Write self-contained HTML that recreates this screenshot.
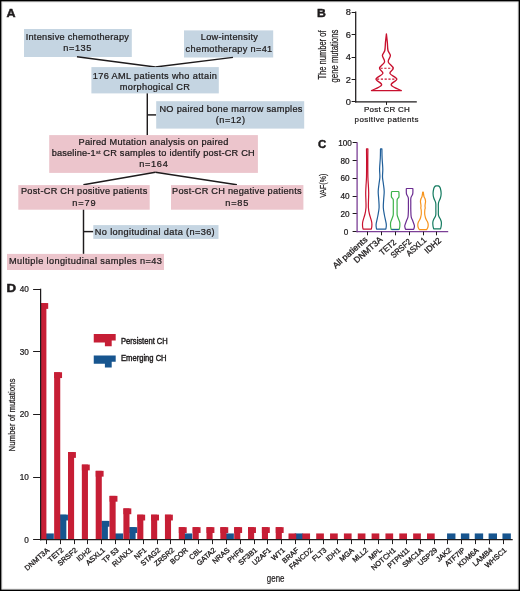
<!DOCTYPE html>
<html><head><meta charset="utf-8"><style>
html,body{margin:0;padding:0;background:#fff;}
body{width:520px;height:591px;overflow:hidden;}
svg{display:block;font-family:"Liberation Sans", sans-serif;will-change:transform;}
</style></head><body>
<svg width="520" height="591" viewBox="0 0 520 591">
<rect x="0" y="0" width="520" height="591" fill="#fff"/>
<text x="6.59" y="17.10" font-size="11.5" font-weight="bold" fill="#1e1b1c" stroke="#1e1b1c" stroke-width="0.45" textLength="9.05" lengthAdjust="spacingAndGlyphs" >A</text>
<rect x="24.00" y="29.00" width="107.80" height="28.00" fill="#c5d5e2"/>
<text x="25.65" y="39.80" font-size="9.2" font-weight="normal" fill="#1e1b1c" stroke="#1e1b1c" stroke-width="0.24" textLength="103.27" lengthAdjust="spacing" >Intensive chemotherapy</text>
<text x="63.18" y="51.20" font-size="9.2" font-weight="normal" fill="#1e1b1c" stroke="#1e1b1c" stroke-width="0.24" textLength="28.30" lengthAdjust="spacing" >n=135</text>
<rect x="184.00" y="30.40" width="89.20" height="27.10" fill="#c5d5e2"/>
<text x="200.74" y="40.40" font-size="9.2" font-weight="normal" fill="#1e1b1c" stroke="#1e1b1c" stroke-width="0.24" textLength="57.19" lengthAdjust="spacing" >Low-intensity</text>
<text x="185.61" y="51.70" font-size="9.2" font-weight="normal" fill="#1e1b1c" stroke="#1e1b1c" stroke-width="0.24" textLength="86.63" lengthAdjust="spacing" >chemotherapy n=41</text>
<line x1="77.00" y1="56.80" x2="155.30" y2="67.00" stroke="#1e1b1c" stroke-width="1.45"/>
<line x1="233.00" y1="57.40" x2="155.30" y2="67.00" stroke="#1e1b1c" stroke-width="1.45"/>
<rect x="91.40" y="67.10" width="127.40" height="26.30" fill="#c5d5e2"/>
<text x="92.81" y="78.50" font-size="9.2" font-weight="normal" fill="#1e1b1c" stroke="#1e1b1c" stroke-width="0.24" textLength="124.09" lengthAdjust="spacing" >176 AML patients who attain</text>
<text x="119.78" y="89.60" font-size="9.2" font-weight="normal" fill="#1e1b1c" stroke="#1e1b1c" stroke-width="0.24" textLength="70.05" lengthAdjust="spacing" >morphogical CR</text>
<line x1="147.30" y1="93.40" x2="147.30" y2="135.20" stroke="#1e1b1c" stroke-width="1.45"/>
<line x1="147.30" y1="114.90" x2="156.20" y2="114.90" stroke="#1e1b1c" stroke-width="1.45"/>
<rect x="156.20" y="101.20" width="148.00" height="27.40" fill="#c5d5e2"/>
<text x="159.44" y="111.60" font-size="9.2" font-weight="normal" fill="#1e1b1c" stroke="#1e1b1c" stroke-width="0.24" textLength="142.99" lengthAdjust="spacing" >NO paired bone marrow samples</text>
<text x="215.83" y="123.10" font-size="9.2" font-weight="normal" fill="#1e1b1c" stroke="#1e1b1c" stroke-width="0.24" textLength="29.14" lengthAdjust="spacing" >(n=12)</text>
<rect x="49.20" y="135.10" width="208.70" height="37.80" fill="#ecc5cc"/>
<text x="78.54" y="145.10" font-size="9.2" font-weight="normal" fill="#1e1b1c" stroke="#1e1b1c" stroke-width="0.24" textLength="149.74" lengthAdjust="spacing" >Paired Mutation analysis on paired</text>
<text x="51.80" y="156.20" font-size="9.2" font-weight="normal" fill="#1e1b1c" stroke="#1e1b1c" stroke-width="0.24" textLength="43.85" lengthAdjust="spacing" >baseline-1</text>
<text x="96.14" y="153.60" font-size="5.2" font-weight="normal" fill="#1e1b1c" stroke="#1e1b1c" stroke-width="0.15" textLength="4.50" lengthAdjust="spacingAndGlyphs" >st</text>
<text x="103.34" y="156.20" font-size="9.2" font-weight="normal" fill="#1e1b1c" stroke="#1e1b1c" stroke-width="0.24" textLength="151.41" lengthAdjust="spacing" >CR samples to identify post-CR CH</text>
<text x="139.28" y="166.90" font-size="9.2" font-weight="normal" fill="#1e1b1c" stroke="#1e1b1c" stroke-width="0.24" textLength="28.48" lengthAdjust="spacing" >n=164</text>
<line x1="155.40" y1="172.20" x2="83.40" y2="184.80" stroke="#1e1b1c" stroke-width="1.45"/>
<line x1="155.40" y1="172.20" x2="236.90" y2="184.80" stroke="#1e1b1c" stroke-width="1.45"/>
<rect x="18.30" y="185.10" width="131.40" height="24.60" fill="#ecc5cc"/>
<text x="20.94" y="194.30" font-size="9.2" font-weight="normal" fill="#1e1b1c" stroke="#1e1b1c" stroke-width="0.24" textLength="126.28" lengthAdjust="spacing" >Post-CR CH positive patients</text>
<text x="72.28" y="205.80" font-size="9.2" font-weight="normal" fill="#1e1b1c" stroke="#1e1b1c" stroke-width="0.24" textLength="23.33" lengthAdjust="spacing" >n=79</text>
<rect x="171.00" y="185.10" width="132.40" height="24.60" fill="#ecc5cc"/>
<text x="172.04" y="194.30" font-size="9.2" font-weight="normal" fill="#1e1b1c" stroke="#1e1b1c" stroke-width="0.24" textLength="129.58" lengthAdjust="spacing" >Post-CR CH negative patients</text>
<text x="225.28" y="205.80" font-size="9.2" font-weight="normal" fill="#1e1b1c" stroke="#1e1b1c" stroke-width="0.24" textLength="23.09" lengthAdjust="spacing" >n=85</text>
<line x1="83.50" y1="209.70" x2="83.50" y2="253.90" stroke="#1e1b1c" stroke-width="1.45"/>
<line x1="83.50" y1="231.60" x2="93.30" y2="231.60" stroke="#1e1b1c" stroke-width="1.45"/>
<rect x="93.30" y="225.10" width="125.20" height="13.80" fill="#c5d5e2"/>
<text x="94.84" y="234.60" font-size="9.2" font-weight="normal" fill="#1e1b1c" stroke="#1e1b1c" stroke-width="0.24" textLength="119.83" lengthAdjust="spacing" >No longitudinal data (n=36)</text>
<rect x="7.00" y="253.90" width="157.00" height="16.10" fill="#ecc5cc"/>
<text x="9.04" y="264.40" font-size="9.2" font-weight="normal" fill="#1e1b1c" stroke="#1e1b1c" stroke-width="0.24" textLength="152.75" lengthAdjust="spacing" >Multiple longitudinal samples n=43</text>
<text x="316.97" y="16.80" font-size="11.0" font-weight="bold" fill="#1e1b1c" stroke="#1e1b1c" stroke-width="0.45" textLength="8.88" lengthAdjust="spacingAndGlyphs" >B</text>
<line x1="355.70" y1="11.50" x2="355.70" y2="102.50" stroke="#1e1b1c" stroke-width="1.25"/>
<line x1="355.10" y1="101.90" x2="416.80" y2="101.90" stroke="#1e1b1c" stroke-width="1.25"/>
<line x1="351.60" y1="101.50" x2="355.70" y2="101.50" stroke="#1e1b1c" stroke-width="1.0"/>
<text x="351.0" y="105.20" font-size="9.3" text-anchor="end" fill="#1e1b1c" stroke="#1e1b1c" stroke-width="0.22">0</text>
<line x1="351.60" y1="79.50" x2="355.70" y2="79.50" stroke="#1e1b1c" stroke-width="1.0"/>
<text x="351.0" y="82.75" font-size="9.3" text-anchor="end" fill="#1e1b1c" stroke="#1e1b1c" stroke-width="0.22">2</text>
<line x1="351.60" y1="57.50" x2="355.70" y2="57.50" stroke="#1e1b1c" stroke-width="1.0"/>
<text x="351.0" y="60.30" font-size="9.3" text-anchor="end" fill="#1e1b1c" stroke="#1e1b1c" stroke-width="0.22">4</text>
<line x1="351.60" y1="34.50" x2="355.70" y2="34.50" stroke="#1e1b1c" stroke-width="1.0"/>
<text x="351.0" y="37.85" font-size="9.3" text-anchor="end" fill="#1e1b1c" stroke="#1e1b1c" stroke-width="0.22">6</text>
<line x1="351.60" y1="12.50" x2="355.70" y2="12.50" stroke="#1e1b1c" stroke-width="1.0"/>
<text x="351.0" y="15.40" font-size="9.3" text-anchor="end" fill="#1e1b1c" stroke="#1e1b1c" stroke-width="0.22">8</text>
<line x1="386.50" y1="101.90" x2="386.50" y2="104.90" stroke="#1e1b1c" stroke-width="1.0"/>
<text x="363.94" y="111.80" font-size="8.0" font-weight="normal" fill="#1e1b1c" stroke="#1e1b1c" stroke-width="0.22" textLength="45.82" lengthAdjust="spacing" >Post CR CH</text>
<text x="354.58" y="121.50" font-size="8.0" font-weight="normal" fill="#1e1b1c" stroke="#1e1b1c" stroke-width="0.22" textLength="63.81" lengthAdjust="spacing" >positive patients</text>
<text transform="translate(326.00,79.40) rotate(-90)" x="-0.17" y="0" font-size="10.4" fill="#1e1b1c" stroke="#1e1b1c" stroke-width="0.22" textLength="49.06" lengthAdjust="spacingAndGlyphs">The number of</text>
<text transform="translate(337.50,82.10) rotate(-90)" x="-0.33" y="0" font-size="10.4" fill="#1e1b1c" stroke="#1e1b1c" stroke-width="0.22" textLength="52.80" lengthAdjust="spacingAndGlyphs">gene mutations</text>
<path d="M386.40,34.00 C386.55,35.33 387.03,39.25 387.30,42.00 C387.57,44.75 387.48,48.23 388.00,50.50 C388.52,52.77 390.37,53.70 390.40,55.60 C390.43,57.50 387.72,59.80 388.20,61.90 C388.68,64.00 393.02,66.28 393.30,68.20 C393.58,70.12 389.32,71.58 389.90,73.40 C390.48,75.22 396.58,77.18 396.80,79.10 C397.02,81.02 390.45,82.98 391.20,84.90 C391.95,86.82 399.62,89.65 401.30,90.60 L371.50,90.60 C373.18,89.65 380.85,86.82 381.60,84.90 C382.35,82.98 375.78,81.02 376.00,79.10 C376.22,77.18 382.32,75.22 382.90,73.40 C383.48,71.58 379.22,70.12 379.50,68.20 C379.78,66.28 384.12,64.00 384.60,61.90 C385.08,59.80 382.37,57.50 382.40,55.60 C382.43,53.70 384.28,52.77 384.80,50.50 C385.32,48.23 385.23,44.75 385.50,42.00 C385.77,39.25 386.25,35.33 386.40,34.00 Z" fill="none" stroke="#c8102e" stroke-width="1.35" stroke-linejoin="round"/>
<line x1="380.5" y1="68.2" x2="392.6" y2="68.2" stroke="#c8102e" stroke-width="1.1" stroke-dasharray="2.2,1.6"/>
<line x1="377.0" y1="79.1" x2="396.0" y2="79.1" stroke="#c8102e" stroke-width="1.1" stroke-dasharray="2.2,1.6"/>
<text x="318.04" y="148.30" font-size="11.0" font-weight="bold" fill="#1e1b1c" stroke="#1e1b1c" stroke-width="0.45" textLength="8.27" lengthAdjust="spacingAndGlyphs" >C</text>
<line x1="352.60" y1="231.50" x2="357.10" y2="231.50" stroke="#1e1b1c" stroke-width="1.0"/>
<text x="346.0" y="234.65" font-size="8.2" text-anchor="middle" fill="#1e1b1c" stroke="#1e1b1c" stroke-width="0.22">0</text>
<line x1="352.60" y1="213.50" x2="357.10" y2="213.50" stroke="#1e1b1c" stroke-width="1.0"/>
<text x="345.1" y="216.88" font-size="8.2" text-anchor="middle" fill="#1e1b1c" stroke="#1e1b1c" stroke-width="0.22">20</text>
<line x1="352.60" y1="196.50" x2="357.10" y2="196.50" stroke="#1e1b1c" stroke-width="1.0"/>
<text x="345.1" y="199.10" font-size="8.2" text-anchor="middle" fill="#1e1b1c" stroke="#1e1b1c" stroke-width="0.22">40</text>
<line x1="352.60" y1="178.50" x2="357.10" y2="178.50" stroke="#1e1b1c" stroke-width="1.0"/>
<text x="345.1" y="181.33" font-size="8.2" text-anchor="middle" fill="#1e1b1c" stroke="#1e1b1c" stroke-width="0.22">60</text>
<line x1="352.60" y1="160.50" x2="357.10" y2="160.50" stroke="#1e1b1c" stroke-width="1.0"/>
<text x="345.1" y="163.55" font-size="8.2" text-anchor="middle" fill="#1e1b1c" stroke="#1e1b1c" stroke-width="0.22">80</text>
<line x1="352.60" y1="142.50" x2="357.10" y2="142.50" stroke="#1e1b1c" stroke-width="1.0"/>
<text x="345.1" y="145.78" font-size="8.2" text-anchor="middle" fill="#1e1b1c" stroke="#1e1b1c" stroke-width="0.22">100</text>
<line x1="357.10" y1="142.23" x2="357.10" y2="232.30" stroke="#7b3f96" stroke-width="1.3"/>
<line x1="356.50" y1="231.70" x2="448.20" y2="231.70" stroke="#7b3f96" stroke-width="1.3"/>
<text transform="translate(326.10,197.80) rotate(-90)" x="-0.04" y="0" font-size="9.8" fill="#1e1b1c" stroke="#1e1b1c" stroke-width="0.22" textLength="24.16" lengthAdjust="spacingAndGlyphs">VAF(%)</text>
<line x1="367.50" y1="231.70" x2="367.50" y2="235.30" stroke="#1e1b1c" stroke-width="1.0"/>
<line x1="381.50" y1="231.70" x2="381.50" y2="235.30" stroke="#1e1b1c" stroke-width="1.0"/>
<line x1="395.50" y1="231.70" x2="395.50" y2="235.30" stroke="#1e1b1c" stroke-width="1.0"/>
<line x1="409.50" y1="231.70" x2="409.50" y2="235.30" stroke="#1e1b1c" stroke-width="1.0"/>
<line x1="423.50" y1="231.70" x2="423.50" y2="235.30" stroke="#1e1b1c" stroke-width="1.0"/>
<line x1="436.50" y1="231.70" x2="436.50" y2="235.30" stroke="#1e1b1c" stroke-width="1.0"/>
<text transform="translate(367.75,240.65) rotate(-41.5)" x="-42.82" y="0" font-size="8.4" fill="#1e1b1c" stroke="#1e1b1c" stroke-width="0.3" textLength="43.12" lengthAdjust="spacingAndGlyphs">All patients</text>
<text transform="translate(383.05,240.35) rotate(-41.5)" x="-35.00" y="0" font-size="8.4" fill="#1e1b1c" stroke="#1e1b1c" stroke-width="0.3" textLength="35.01" lengthAdjust="spacingAndGlyphs">DNMT3A</text>
<text transform="translate(396.32,243.48) rotate(-41.5)" x="-18.37" y="0" font-size="8.4" fill="#1e1b1c" stroke="#1e1b1c" stroke-width="0.3" textLength="18.78" lengthAdjust="spacingAndGlyphs">TET2</text>
<text transform="translate(411.50,242.84) rotate(-41.5)" x="-23.74" y="0" font-size="8.4" fill="#1e1b1c" stroke="#1e1b1c" stroke-width="0.3" textLength="24.12" lengthAdjust="spacingAndGlyphs">SRSF2</text>
<text transform="translate(426.65,241.25) rotate(-41.5)" x="-23.32" y="0" font-size="8.4" fill="#1e1b1c" stroke="#1e1b1c" stroke-width="0.3" textLength="23.69" lengthAdjust="spacingAndGlyphs">ASXL1</text>
<text transform="translate(441.55,241.65) rotate(-41.5)" x="-18.68" y="0" font-size="8.4" fill="#1e1b1c" stroke="#1e1b1c" stroke-width="0.3" textLength="19.10" lengthAdjust="spacingAndGlyphs">IDH2</text>
<path d="M367.90,148.80 C367.88,150.67 367.80,155.30 367.80,160.00 C367.80,164.70 367.80,172.67 367.90,177.00 C368.00,181.33 368.27,183.33 368.40,186.00 C368.53,188.67 368.68,190.67 368.70,193.00 C368.72,195.33 368.55,197.58 368.50,200.00 C368.45,202.42 368.25,205.17 368.40,207.50 C368.55,209.83 368.85,211.58 369.40,214.00 C369.95,216.42 371.30,219.92 371.70,222.00 C372.10,224.08 371.87,225.30 371.80,226.50 C371.73,227.70 371.38,228.75 371.30,229.20 L363.10,229.20 C363.02,228.75 362.67,227.70 362.60,226.50 C362.53,225.30 362.30,224.08 362.70,222.00 C363.10,219.92 364.45,216.42 365.00,214.00 C365.55,211.58 365.85,209.83 366.00,207.50 C366.15,205.17 365.95,202.42 365.90,200.00 C365.85,197.58 365.68,195.33 365.70,193.00 C365.72,190.67 365.87,188.67 366.00,186.00 C366.13,183.33 366.40,181.33 366.50,177.00 C366.60,172.67 366.60,164.70 366.60,160.00 C366.60,155.30 366.52,150.67 366.50,148.80 Z" fill="none" stroke="#c8102e" stroke-width="1.2" stroke-linejoin="round"/>
<path d="M381.90,148.80 C381.93,150.33 381.95,154.63 382.10,158.00 C382.25,161.37 382.73,165.83 382.80,169.00 C382.87,172.17 382.40,174.50 382.50,177.00 C382.60,179.50 383.12,181.60 383.40,184.00 C383.68,186.40 384.15,188.90 384.20,191.40 C384.25,193.90 383.85,196.32 383.70,199.00 C383.55,201.68 383.18,204.83 383.30,207.50 C383.42,210.17 383.92,212.32 384.40,215.00 C384.88,217.68 385.90,221.60 386.20,223.60 C386.50,225.60 386.27,226.07 386.20,227.00 C386.13,227.93 385.87,228.83 385.80,229.20 L376.60,229.20 C376.53,228.83 376.27,227.93 376.20,227.00 C376.13,226.07 375.90,225.60 376.20,223.60 C376.50,221.60 377.52,217.68 378.00,215.00 C378.48,212.32 378.98,210.17 379.10,207.50 C379.22,204.83 378.85,201.68 378.70,199.00 C378.55,196.32 378.15,193.90 378.20,191.40 C378.25,188.90 378.72,186.40 379.00,184.00 C379.28,181.60 379.80,179.50 379.90,177.00 C380.00,174.50 379.53,172.17 379.60,169.00 C379.67,165.83 380.15,161.37 380.30,158.00 C380.45,154.63 380.47,150.33 380.50,148.80 Z" fill="none" stroke="#1f5e99" stroke-width="1.2" stroke-linejoin="round"/>
<path d="M398.20,191.50 C398.28,191.55 398.57,191.55 398.70,191.80 C398.82,192.05 398.92,192.13 398.95,193.00 C398.98,193.87 399.19,195.92 398.90,197.00 C398.61,198.08 397.50,198.17 397.20,199.50 C396.90,200.83 397.12,203.25 397.10,205.00 C397.08,206.75 397.08,208.32 397.10,210.00 C397.12,211.68 396.97,213.60 397.20,215.10 C397.43,216.60 398.07,217.73 398.50,219.00 C398.93,220.27 399.58,221.45 399.80,222.70 C400.02,223.95 399.90,225.38 399.80,226.50 C399.70,227.62 399.30,228.92 399.20,229.40 L391.20,229.40 C391.10,228.92 390.70,227.62 390.60,226.50 C390.50,225.38 390.38,223.95 390.60,222.70 C390.82,221.45 391.47,220.27 391.90,219.00 C392.33,217.73 392.97,216.60 393.20,215.10 C393.43,213.60 393.28,211.68 393.30,210.00 C393.32,208.32 393.32,206.75 393.30,205.00 C393.28,203.25 393.50,200.83 393.20,199.50 C392.90,198.17 391.79,198.08 391.50,197.00 C391.21,195.92 391.42,193.87 391.45,193.00 C391.48,192.13 391.57,192.05 391.70,191.80 C391.82,191.55 392.12,191.55 392.20,191.50 Z" fill="none" stroke="#3db34a" stroke-width="1.2" stroke-linejoin="round"/>
<path d="M412.60,188.50 C412.64,188.55 412.80,188.55 412.85,188.80 C412.90,189.05 412.93,189.13 412.90,190.00 C412.88,190.87 413.03,192.70 412.70,194.00 C412.37,195.30 411.22,196.30 410.90,197.80 C410.58,199.30 410.82,200.97 410.80,203.00 C410.78,205.03 410.73,207.70 410.80,210.00 C410.87,212.30 410.87,214.97 411.20,216.80 C411.53,218.63 412.27,219.52 412.80,221.00 C413.33,222.48 414.18,224.53 414.40,225.70 C414.62,226.87 414.23,227.40 414.10,228.00 C413.97,228.60 413.68,229.08 413.60,229.30 L405.60,229.30 C405.52,229.08 405.23,228.60 405.10,228.00 C404.97,227.40 404.58,226.87 404.80,225.70 C405.02,224.53 405.87,222.48 406.40,221.00 C406.93,219.52 407.67,218.63 408.00,216.80 C408.33,214.97 408.33,212.30 408.40,210.00 C408.47,207.70 408.42,205.03 408.40,203.00 C408.38,200.97 408.62,199.30 408.30,197.80 C407.98,196.30 406.83,195.30 406.50,194.00 C406.17,192.70 406.32,190.87 406.30,190.00 C406.28,189.13 406.30,189.05 406.35,188.80 C406.40,188.55 406.56,188.55 406.60,188.50 Z" fill="none" stroke="#6b2c91" stroke-width="1.2" stroke-linejoin="round"/>
<path d="M423.30,192.10 C423.42,192.85 423.70,195.45 424.00,196.60 C424.30,197.75 424.84,198.18 425.10,199.00 C425.36,199.82 425.53,200.67 425.55,201.50 C425.57,202.33 425.29,203.25 425.20,204.00 C425.11,204.75 425.00,205.33 425.00,206.00 C425.00,206.67 425.23,207.33 425.20,208.00 C425.17,208.67 424.88,209.00 424.80,210.00 C424.72,211.00 424.60,212.75 424.70,214.00 C424.80,215.25 425.13,216.53 425.40,217.50 C425.67,218.47 425.93,219.05 426.30,219.80 C426.67,220.55 427.28,221.17 427.60,222.00 C427.92,222.83 428.17,223.88 428.20,224.80 C428.23,225.72 428.07,226.70 427.80,227.50 C427.53,228.30 426.80,229.25 426.60,229.60 L419.40,229.60 C419.20,229.25 418.47,228.30 418.20,227.50 C417.93,226.70 417.77,225.72 417.80,224.80 C417.83,223.88 418.08,222.83 418.40,222.00 C418.72,221.17 419.33,220.55 419.70,219.80 C420.07,219.05 420.33,218.47 420.60,217.50 C420.87,216.53 421.20,215.25 421.30,214.00 C421.40,212.75 421.28,211.00 421.20,210.00 C421.12,209.00 420.83,208.67 420.80,208.00 C420.77,207.33 421.00,206.67 421.00,206.00 C421.00,205.33 420.89,204.75 420.80,204.00 C420.71,203.25 420.43,202.33 420.45,201.50 C420.47,200.67 420.64,199.82 420.90,199.00 C421.16,198.18 421.70,197.75 422.00,196.60 C422.30,195.45 422.58,192.85 422.70,192.10 Z" fill="none" stroke="#f7941d" stroke-width="1.2" stroke-linejoin="round"/>
<path d="M437.90,185.80 C438.13,185.92 438.88,186.05 439.30,186.50 C439.72,186.95 440.09,187.35 440.40,188.50 C440.71,189.65 441.15,191.82 441.15,193.40 C441.15,194.98 440.84,196.43 440.40,198.00 C439.96,199.57 438.84,200.97 438.50,202.80 C438.16,204.63 438.35,206.90 438.35,209.00 C438.35,211.10 438.18,213.73 438.50,215.40 C438.82,217.07 439.82,217.88 440.30,219.00 C440.78,220.12 441.20,220.93 441.35,222.10 C441.50,223.27 441.34,224.88 441.20,226.00 C441.06,227.12 440.62,228.33 440.50,228.80 L433.70,228.80 C433.58,228.33 433.14,227.12 433.00,226.00 C432.86,224.88 432.70,223.27 432.85,222.10 C433.00,220.93 433.43,220.12 433.90,219.00 C434.38,217.88 435.38,217.07 435.70,215.40 C436.03,213.73 435.85,211.10 435.85,209.00 C435.85,206.90 436.04,204.63 435.70,202.80 C435.36,200.97 434.24,199.57 433.80,198.00 C433.36,196.43 433.05,194.98 433.05,193.40 C433.05,191.82 433.49,189.65 433.80,188.50 C434.11,187.35 434.48,186.95 434.90,186.50 C435.32,186.05 436.07,185.92 436.30,185.80 Z" fill="none" stroke="#137a5f" stroke-width="1.2" stroke-linejoin="round"/>
<line x1="391.6" y1="229.6" x2="398.8" y2="229.6" stroke="#1f5e99" stroke-width="1.1"/>
<text x="6.61" y="291.80" font-size="10.5" font-weight="bold" fill="#1e1b1c" stroke="#1e1b1c" stroke-width="0.45" textLength="9.55" lengthAdjust="spacingAndGlyphs" >D</text>
<rect x="45.40" y="533.44" width="8.40" height="6.26" fill="#17558f"/>
<rect x="60.05" y="514.66" width="6.30" height="25.04" fill="#17558f"/>
<rect x="60.05" y="514.66" width="7.90" height="5.80" fill="#17558f"/>
<rect x="101.60" y="520.92" width="6.30" height="18.78" fill="#17558f"/>
<rect x="101.60" y="520.92" width="7.90" height="5.80" fill="#17558f"/>
<rect x="114.65" y="533.44" width="8.40" height="6.26" fill="#17558f"/>
<rect x="129.30" y="527.18" width="6.30" height="12.52" fill="#17558f"/>
<rect x="129.30" y="527.18" width="7.90" height="5.80" fill="#17558f"/>
<rect x="183.90" y="533.44" width="8.40" height="6.26" fill="#17558f"/>
<rect x="225.45" y="533.44" width="8.40" height="6.26" fill="#17558f"/>
<rect x="294.70" y="533.44" width="8.40" height="6.26" fill="#17558f"/>
<rect x="447.05" y="533.44" width="8.40" height="6.26" fill="#17558f"/>
<rect x="460.90" y="533.44" width="8.40" height="6.26" fill="#17558f"/>
<rect x="474.75" y="533.44" width="8.40" height="6.26" fill="#17558f"/>
<rect x="488.60" y="533.44" width="8.40" height="6.26" fill="#17558f"/>
<rect x="502.45" y="533.44" width="8.40" height="6.26" fill="#17558f"/>
<rect x="41.00" y="303.07" width="5.40" height="236.63" fill="#c61e35"/>
<rect x="41.00" y="303.07" width="7.20" height="5.80" fill="#c61e35"/>
<rect x="54.15" y="372.25" width="6.10" height="167.45" fill="#c61e35"/>
<rect x="54.15" y="372.25" width="7.90" height="5.80" fill="#c61e35"/>
<rect x="68.00" y="452.06" width="6.10" height="87.64" fill="#c61e35"/>
<rect x="68.00" y="452.06" width="7.90" height="5.80" fill="#c61e35"/>
<rect x="81.85" y="464.58" width="6.10" height="75.12" fill="#c61e35"/>
<rect x="81.85" y="464.58" width="7.90" height="5.80" fill="#c61e35"/>
<rect x="95.70" y="470.84" width="6.10" height="68.86" fill="#c61e35"/>
<rect x="95.70" y="470.84" width="7.90" height="5.80" fill="#c61e35"/>
<rect x="109.55" y="495.88" width="6.10" height="43.82" fill="#c61e35"/>
<rect x="109.55" y="495.88" width="7.90" height="5.80" fill="#c61e35"/>
<rect x="123.40" y="508.40" width="6.10" height="31.30" fill="#c61e35"/>
<rect x="123.40" y="508.40" width="7.90" height="5.80" fill="#c61e35"/>
<rect x="137.25" y="514.66" width="6.10" height="25.04" fill="#c61e35"/>
<rect x="137.25" y="514.66" width="7.90" height="5.80" fill="#c61e35"/>
<rect x="151.10" y="514.66" width="6.10" height="25.04" fill="#c61e35"/>
<rect x="151.10" y="514.66" width="7.90" height="5.80" fill="#c61e35"/>
<rect x="164.95" y="514.66" width="6.10" height="25.04" fill="#c61e35"/>
<rect x="164.95" y="514.66" width="7.90" height="5.80" fill="#c61e35"/>
<rect x="178.80" y="527.18" width="6.10" height="12.52" fill="#c61e35"/>
<rect x="178.80" y="527.18" width="7.90" height="5.80" fill="#c61e35"/>
<rect x="192.65" y="527.18" width="6.10" height="12.52" fill="#c61e35"/>
<rect x="192.65" y="527.18" width="7.90" height="5.80" fill="#c61e35"/>
<rect x="206.50" y="527.18" width="6.10" height="12.52" fill="#c61e35"/>
<rect x="206.50" y="527.18" width="7.90" height="5.80" fill="#c61e35"/>
<rect x="220.35" y="527.18" width="6.10" height="12.52" fill="#c61e35"/>
<rect x="220.35" y="527.18" width="7.90" height="5.80" fill="#c61e35"/>
<rect x="234.20" y="527.18" width="6.10" height="12.52" fill="#c61e35"/>
<rect x="234.20" y="527.18" width="7.90" height="5.80" fill="#c61e35"/>
<rect x="248.05" y="527.18" width="6.10" height="12.52" fill="#c61e35"/>
<rect x="248.05" y="527.18" width="7.90" height="5.80" fill="#c61e35"/>
<rect x="261.90" y="527.18" width="6.10" height="12.52" fill="#c61e35"/>
<rect x="261.90" y="527.18" width="7.90" height="5.80" fill="#c61e35"/>
<rect x="275.75" y="527.18" width="6.10" height="12.52" fill="#c61e35"/>
<rect x="275.75" y="527.18" width="7.90" height="5.80" fill="#c61e35"/>
<rect x="288.50" y="533.44" width="7.70" height="6.26" fill="#c61e35"/>
<rect x="302.35" y="533.44" width="7.70" height="6.26" fill="#c61e35"/>
<rect x="316.20" y="533.44" width="7.70" height="6.26" fill="#c61e35"/>
<rect x="330.05" y="533.44" width="7.70" height="6.26" fill="#c61e35"/>
<rect x="343.90" y="533.44" width="7.70" height="6.26" fill="#c61e35"/>
<rect x="357.75" y="533.44" width="7.70" height="6.26" fill="#c61e35"/>
<rect x="371.60" y="533.44" width="7.70" height="6.26" fill="#c61e35"/>
<rect x="385.45" y="533.44" width="7.70" height="6.26" fill="#c61e35"/>
<rect x="399.30" y="533.44" width="7.70" height="6.26" fill="#c61e35"/>
<rect x="413.15" y="533.44" width="7.70" height="6.26" fill="#c61e35"/>
<rect x="427.00" y="533.44" width="7.70" height="6.26" fill="#c61e35"/>
<line x1="40.60" y1="288.70" x2="40.60" y2="540.30" stroke="#1e1b1c" stroke-width="1.25"/>
<line x1="40.00" y1="539.70" x2="512.70" y2="539.70" stroke="#1e1b1c" stroke-width="1.25"/>
<line x1="33.10" y1="539.50" x2="40.60" y2="539.50" stroke="#1e1b1c" stroke-width="1.0"/>
<text x="28.9" y="542.60" font-size="8.2" text-anchor="end" fill="#1e1b1c" stroke="#1e1b1c" stroke-width="0.22">0</text>
<line x1="33.10" y1="477.50" x2="40.60" y2="477.50" stroke="#1e1b1c" stroke-width="1.0"/>
<text x="28.9" y="480.00" font-size="8.2" text-anchor="end" fill="#1e1b1c" stroke="#1e1b1c" stroke-width="0.22">10</text>
<line x1="33.10" y1="414.50" x2="40.60" y2="414.50" stroke="#1e1b1c" stroke-width="1.0"/>
<text x="28.9" y="417.40" font-size="8.2" text-anchor="end" fill="#1e1b1c" stroke="#1e1b1c" stroke-width="0.22">20</text>
<line x1="33.10" y1="351.50" x2="40.60" y2="351.50" stroke="#1e1b1c" stroke-width="1.0"/>
<text x="28.9" y="354.80" font-size="8.2" text-anchor="end" fill="#1e1b1c" stroke="#1e1b1c" stroke-width="0.22">30</text>
<line x1="33.10" y1="289.50" x2="40.60" y2="289.50" stroke="#1e1b1c" stroke-width="1.0"/>
<text x="28.9" y="292.20" font-size="8.2" text-anchor="end" fill="#1e1b1c" stroke="#1e1b1c" stroke-width="0.22">40</text>
<line x1="46.50" y1="539.70" x2="46.50" y2="544.10" stroke="#1e1b1c" stroke-width="1.0"/>
<text transform="translate(49.80,551.00) rotate(-41.5)" x="-30.00" y="0" font-size="7.3" fill="#1e1b1c" stroke="#1e1b1c" stroke-width="0.3" textLength="30.01" lengthAdjust="spacingAndGlyphs">DNMT3A</text>
<line x1="60.50" y1="539.70" x2="60.50" y2="544.10" stroke="#1e1b1c" stroke-width="1.0"/>
<text transform="translate(63.65,551.00) rotate(-41.5)" x="-17.47" y="0" font-size="7.3" fill="#1e1b1c" stroke="#1e1b1c" stroke-width="0.3" textLength="17.85" lengthAdjust="spacingAndGlyphs">TET2</text>
<line x1="74.50" y1="539.70" x2="74.50" y2="544.10" stroke="#1e1b1c" stroke-width="1.0"/>
<text transform="translate(77.50,551.00) rotate(-41.5)" x="-23.16" y="0" font-size="7.3" fill="#1e1b1c" stroke="#1e1b1c" stroke-width="0.3" textLength="23.53" lengthAdjust="spacingAndGlyphs">SRSF2</text>
<line x1="87.50" y1="539.70" x2="87.50" y2="544.10" stroke="#1e1b1c" stroke-width="1.0"/>
<text transform="translate(91.35,551.00) rotate(-41.5)" x="-16.26" y="0" font-size="7.3" fill="#1e1b1c" stroke="#1e1b1c" stroke-width="0.3" textLength="16.63" lengthAdjust="spacingAndGlyphs">IDH2</text>
<line x1="101.50" y1="539.70" x2="101.50" y2="544.10" stroke="#1e1b1c" stroke-width="1.0"/>
<text transform="translate(105.20,551.00) rotate(-41.5)" x="-22.37" y="0" font-size="7.3" fill="#1e1b1c" stroke="#1e1b1c" stroke-width="0.3" textLength="22.73" lengthAdjust="spacingAndGlyphs">ASXL1</text>
<line x1="115.50" y1="539.70" x2="115.50" y2="544.10" stroke="#1e1b1c" stroke-width="1.0"/>
<text transform="translate(119.05,551.00) rotate(-41.5)" x="-19.03" y="0" font-size="7.3" fill="#1e1b1c" stroke="#1e1b1c" stroke-width="0.3" textLength="19.34" lengthAdjust="spacingAndGlyphs">TP 53</text>
<line x1="129.50" y1="539.70" x2="129.50" y2="544.10" stroke="#1e1b1c" stroke-width="1.0"/>
<text transform="translate(132.90,551.00) rotate(-41.5)" x="-24.38" y="0" font-size="7.3" fill="#1e1b1c" stroke="#1e1b1c" stroke-width="0.3" textLength="24.75" lengthAdjust="spacingAndGlyphs">RUNX1</text>
<line x1="143.50" y1="539.70" x2="143.50" y2="544.10" stroke="#1e1b1c" stroke-width="1.0"/>
<text transform="translate(146.75,551.00) rotate(-41.5)" x="-13.43" y="0" font-size="7.3" fill="#1e1b1c" stroke="#1e1b1c" stroke-width="0.3" textLength="13.79" lengthAdjust="spacingAndGlyphs">NF1</text>
<line x1="157.50" y1="539.70" x2="157.50" y2="544.10" stroke="#1e1b1c" stroke-width="1.0"/>
<text transform="translate(160.60,551.00) rotate(-41.5)" x="-23.01" y="0" font-size="7.3" fill="#1e1b1c" stroke="#1e1b1c" stroke-width="0.3" textLength="23.39" lengthAdjust="spacingAndGlyphs">STAG2</text>
<line x1="170.50" y1="539.70" x2="170.50" y2="544.10" stroke="#1e1b1c" stroke-width="1.0"/>
<text transform="translate(174.45,551.00) rotate(-41.5)" x="-23.56" y="0" font-size="7.3" fill="#1e1b1c" stroke="#1e1b1c" stroke-width="0.3" textLength="23.93" lengthAdjust="spacingAndGlyphs">ZRSR2</text>
<line x1="184.50" y1="539.70" x2="184.50" y2="544.10" stroke="#1e1b1c" stroke-width="1.0"/>
<text transform="translate(188.30,551.00) rotate(-41.5)" x="-20.75" y="0" font-size="7.3" fill="#1e1b1c" stroke="#1e1b1c" stroke-width="0.3" textLength="21.09" lengthAdjust="spacingAndGlyphs">BCOR</text>
<line x1="198.50" y1="539.70" x2="198.50" y2="544.10" stroke="#1e1b1c" stroke-width="1.0"/>
<text transform="translate(202.15,551.00) rotate(-41.5)" x="-13.96" y="0" font-size="7.3" fill="#1e1b1c" stroke="#1e1b1c" stroke-width="0.3" textLength="14.20" lengthAdjust="spacingAndGlyphs">CBL</text>
<line x1="212.50" y1="539.70" x2="212.50" y2="544.10" stroke="#1e1b1c" stroke-width="1.0"/>
<text transform="translate(216.00,551.00) rotate(-41.5)" x="-22.48" y="0" font-size="7.3" fill="#1e1b1c" stroke="#1e1b1c" stroke-width="0.3" textLength="22.85" lengthAdjust="spacingAndGlyphs">GATA2</text>
<line x1="226.50" y1="539.70" x2="226.50" y2="544.10" stroke="#1e1b1c" stroke-width="1.0"/>
<text transform="translate(229.85,551.00) rotate(-41.5)" x="-19.97" y="0" font-size="7.3" fill="#1e1b1c" stroke="#1e1b1c" stroke-width="0.3" textLength="20.28" lengthAdjust="spacingAndGlyphs">NRAS</text>
<line x1="240.50" y1="539.70" x2="240.50" y2="544.10" stroke="#1e1b1c" stroke-width="1.0"/>
<text transform="translate(243.70,551.00) rotate(-41.5)" x="-18.34" y="0" font-size="7.3" fill="#1e1b1c" stroke="#1e1b1c" stroke-width="0.3" textLength="18.66" lengthAdjust="spacingAndGlyphs">PHF6</text>
<line x1="254.50" y1="539.70" x2="254.50" y2="544.10" stroke="#1e1b1c" stroke-width="1.0"/>
<text transform="translate(257.55,551.00) rotate(-41.5)" x="-21.95" y="0" font-size="7.3" fill="#1e1b1c" stroke="#1e1b1c" stroke-width="0.3" textLength="22.32" lengthAdjust="spacingAndGlyphs">SF3B1</text>
<line x1="267.50" y1="539.70" x2="267.50" y2="544.10" stroke="#1e1b1c" stroke-width="1.0"/>
<text transform="translate(271.40,551.00) rotate(-41.5)" x="-22.36" y="0" font-size="7.3" fill="#1e1b1c" stroke="#1e1b1c" stroke-width="0.3" textLength="22.72" lengthAdjust="spacingAndGlyphs">U2AF1</text>
<line x1="281.50" y1="539.70" x2="281.50" y2="544.10" stroke="#1e1b1c" stroke-width="1.0"/>
<text transform="translate(285.25,551.00) rotate(-41.5)" x="-15.06" y="0" font-size="7.3" fill="#1e1b1c" stroke="#1e1b1c" stroke-width="0.3" textLength="15.41" lengthAdjust="spacingAndGlyphs">WT1</text>
<line x1="295.50" y1="539.70" x2="295.50" y2="544.10" stroke="#1e1b1c" stroke-width="1.0"/>
<text transform="translate(299.10,551.00) rotate(-41.5)" x="-19.16" y="0" font-size="7.3" fill="#1e1b1c" stroke="#1e1b1c" stroke-width="0.3" textLength="19.47" lengthAdjust="spacingAndGlyphs">BRAF</text>
<line x1="309.50" y1="539.70" x2="309.50" y2="544.10" stroke="#1e1b1c" stroke-width="1.0"/>
<text transform="translate(312.95,551.00) rotate(-41.5)" x="-28.43" y="0" font-size="7.3" fill="#1e1b1c" stroke="#1e1b1c" stroke-width="0.3" textLength="28.80" lengthAdjust="spacingAndGlyphs">FANCD2</text>
<line x1="323.50" y1="539.70" x2="323.50" y2="544.10" stroke="#1e1b1c" stroke-width="1.0"/>
<text transform="translate(326.80,551.00) rotate(-41.5)" x="-16.17" y="0" font-size="7.3" fill="#1e1b1c" stroke="#1e1b1c" stroke-width="0.3" textLength="16.50" lengthAdjust="spacingAndGlyphs">FLT3</text>
<line x1="337.50" y1="539.70" x2="337.50" y2="544.10" stroke="#1e1b1c" stroke-width="1.0"/>
<text transform="translate(340.65,551.00) rotate(-41.5)" x="-16.28" y="0" font-size="7.3" fill="#1e1b1c" stroke="#1e1b1c" stroke-width="0.3" textLength="16.63" lengthAdjust="spacingAndGlyphs">IDH1</text>
<line x1="351.50" y1="539.70" x2="351.50" y2="544.10" stroke="#1e1b1c" stroke-width="1.0"/>
<text transform="translate(354.50,551.00) rotate(-41.5)" x="-16.61" y="0" font-size="7.3" fill="#1e1b1c" stroke="#1e1b1c" stroke-width="0.3" textLength="16.63" lengthAdjust="spacingAndGlyphs">MGA</text>
<line x1="364.50" y1="539.70" x2="364.50" y2="544.10" stroke="#1e1b1c" stroke-width="1.0"/>
<text transform="translate(368.35,551.00) rotate(-41.5)" x="-17.89" y="0" font-size="7.3" fill="#1e1b1c" stroke="#1e1b1c" stroke-width="0.3" textLength="18.26" lengthAdjust="spacingAndGlyphs">MLL2</text>
<line x1="378.50" y1="539.70" x2="378.50" y2="544.10" stroke="#1e1b1c" stroke-width="1.0"/>
<text transform="translate(382.20,551.00) rotate(-41.5)" x="-14.76" y="0" font-size="7.3" fill="#1e1b1c" stroke="#1e1b1c" stroke-width="0.3" textLength="15.01" lengthAdjust="spacingAndGlyphs">MPL</text>
<line x1="392.50" y1="539.70" x2="392.50" y2="544.10" stroke="#1e1b1c" stroke-width="1.0"/>
<text transform="translate(396.05,551.00) rotate(-41.5)" x="-29.66" y="0" font-size="7.3" fill="#1e1b1c" stroke="#1e1b1c" stroke-width="0.3" textLength="30.01" lengthAdjust="spacingAndGlyphs">NOTCH1</text>
<line x1="406.50" y1="539.70" x2="406.50" y2="544.10" stroke="#1e1b1c" stroke-width="1.0"/>
<text transform="translate(409.90,551.00) rotate(-41.5)" x="-26.70" y="0" font-size="7.3" fill="#1e1b1c" stroke="#1e1b1c" stroke-width="0.3" textLength="27.05" lengthAdjust="spacingAndGlyphs">PTPN11</text>
<line x1="420.50" y1="539.70" x2="420.50" y2="544.10" stroke="#1e1b1c" stroke-width="1.0"/>
<text transform="translate(423.75,551.00) rotate(-41.5)" x="-25.13" y="0" font-size="7.3" fill="#1e1b1c" stroke="#1e1b1c" stroke-width="0.3" textLength="25.15" lengthAdjust="spacingAndGlyphs">SMC1A</text>
<line x1="434.50" y1="539.70" x2="434.50" y2="544.10" stroke="#1e1b1c" stroke-width="1.0"/>
<text transform="translate(437.60,551.00) rotate(-41.5)" x="-22.79" y="0" font-size="7.3" fill="#1e1b1c" stroke="#1e1b1c" stroke-width="0.3" textLength="23.13" lengthAdjust="spacingAndGlyphs">USP29</text>
<line x1="447.50" y1="539.70" x2="447.50" y2="544.10" stroke="#1e1b1c" stroke-width="1.0"/>
<text transform="translate(451.45,551.00) rotate(-41.5)" x="-17.08" y="0" font-size="7.3" fill="#1e1b1c" stroke="#1e1b1c" stroke-width="0.3" textLength="17.45" lengthAdjust="spacingAndGlyphs">JAK2</text>
<line x1="461.50" y1="539.70" x2="461.50" y2="544.10" stroke="#1e1b1c" stroke-width="1.0"/>
<text transform="translate(465.30,551.00) rotate(-41.5)" x="-23.82" y="0" font-size="7.3" fill="#1e1b1c" stroke="#1e1b1c" stroke-width="0.3" textLength="24.20" lengthAdjust="spacingAndGlyphs">ATF7IP</text>
<line x1="475.50" y1="539.70" x2="475.50" y2="544.10" stroke="#1e1b1c" stroke-width="1.0"/>
<text transform="translate(479.15,551.00) rotate(-41.5)" x="-25.13" y="0" font-size="7.3" fill="#1e1b1c" stroke="#1e1b1c" stroke-width="0.3" textLength="25.15" lengthAdjust="spacingAndGlyphs">KDM6A</text>
<line x1="489.50" y1="539.70" x2="489.50" y2="544.10" stroke="#1e1b1c" stroke-width="1.0"/>
<text transform="translate(493.00,551.00) rotate(-41.5)" x="-23.72" y="0" font-size="7.3" fill="#1e1b1c" stroke="#1e1b1c" stroke-width="0.3" textLength="23.94" lengthAdjust="spacingAndGlyphs">LAMB4</text>
<line x1="503.50" y1="539.70" x2="503.50" y2="544.10" stroke="#1e1b1c" stroke-width="1.0"/>
<text transform="translate(506.85,551.00) rotate(-41.5)" x="-26.01" y="0" font-size="7.3" fill="#1e1b1c" stroke="#1e1b1c" stroke-width="0.3" textLength="26.36" lengthAdjust="spacingAndGlyphs">WHSC1</text>
<text transform="translate(15.10,450.80) rotate(-90)" x="-0.65" y="0" font-size="9.9" fill="#1e1b1c" stroke="#1e1b1c" stroke-width="0.22" textLength="72.92" lengthAdjust="spacingAndGlyphs">Number of mutations</text>
<text x="266.86" y="581.80" font-size="10.0" font-weight="normal" fill="#1e1b1c" stroke="#1e1b1c" stroke-width="0.22" textLength="17.59" lengthAdjust="spacingAndGlyphs" >gene</text>
<path d="M93.75,334.10 L115.70,334.10 L115.70,340.50 L111.70,340.50 L111.70,346.20 L104.90,346.20 L104.90,342.50 L93.75,342.50 Z" fill="#c61e35"/>
<path d="M93.75,355.40 L115.70,355.40 L115.70,361.80 L111.70,361.80 L111.70,367.50 L104.90,367.50 L104.90,363.80 L93.75,363.80 Z" fill="#17558f"/>
<text x="121.07" y="343.80" font-size="8.3" font-weight="normal" fill="#1e1b1c" stroke="#1e1b1c" stroke-width="0.42" textLength="46.74" lengthAdjust="spacingAndGlyphs" >Persistent CH</text>
<text x="121.07" y="360.60" font-size="8.3" font-weight="normal" fill="#1e1b1c" stroke="#1e1b1c" stroke-width="0.42" textLength="45.55" lengthAdjust="spacingAndGlyphs" >Emerging CH</text>
<rect x="0" y="0" width="520" height="591" fill="none" stroke="#000" stroke-width="2.8"/>
<rect x="2" y="2" width="516" height="587" fill="none" stroke="#000" stroke-opacity="0.12" stroke-width="1"/>
</svg>
</body></html>
